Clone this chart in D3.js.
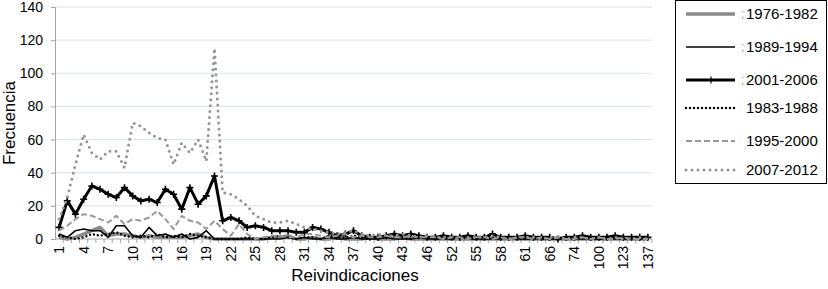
<!DOCTYPE html>
<html>
<head>
<meta charset="utf-8">
<script src="https://cdn.jsdelivr.net/npm/d3@7"></script>
<style>
  body { margin: 0; background: #fff; }
  svg { font-family: "Liberation Sans", Arial, sans-serif; }
</style>
</head>
<body>
<div id="chart"></div>
<script>
// categories (number of claims) - only the ones present in the chart
const categories = [
  1, 2, 3, 4, 5, 6, 7, 8, 9, 10, 11, 12, 13, 14, 15, 16, 17, 18, 19, 20,
  21, 22, 23, 24, 25, 26, 27, 28, 29, 30, 31, 32, 33, 34, 35, 36, 37, 38, 39, 40,
  41, 42, 43, 44, 45, 46, 48, 50, 52, 53, 54, 55, 56, 57, 58, 59, 60, 61, 62, 64,
  66, 68, 70, 74, 80, 90, 100, 105, 110, 123, 125, 130, 137
];

const yTicks = [0, 20, 40, 60, 80, 100, 120, 140];

// frequencies per period
const s1976 = [
  1, 0, 1, 3, 5, 7, 2, 3, 3, 2, 1, 2, 1, 1, 1, 1, 2, 3, 1, 0,
  0, 0, 0, 0, 0, 0, 1, 1, 2, 0, 0, 1, 0, 0, 1, 0, 0, 0, 1, 0,
  0, 0, 1, 0, 0, 0, 0, 0, 0, 0, 0, 0, 0, 0, 0, 0, 0, 0, 0, 0,
  0, 0, 0, 0, 0, 0, 0, 0, 0, 0, 0, 0, 0
];
const s1989 = [
  3, 1, 5, 6, 5, 5, 1, 8, 8, 2, 1, 7, 2, 3, 1, 3, 0, 1, 5, 0,
  0, 0, 0, 0, 0, 0, 0, 0, 1, 0, 1, 0, 0, 1, 0, 0, 1, 0, 0, 0,
  1, 0, 0, 0, 1, 0, 0, 0, 0, 1, 0, 0, 0, 0, 0, 1, 0, 0, 0, 0,
  0, 0, 1, 0, 0, 0, 0, 0, 0, 0, 0, 0, 0
];
const s2001 = [
  7, 23, 15, 24, 32, 30, 27, 25, 31, 26, 23, 24, 22, 30, 27, 18, 31, 21, 26, 38,
  11, 13, 11, 7, 8, 7, 5, 5, 5, 4, 4, 7, 6, 4, 2, 3, 5, 2, 1, 1,
  2, 3, 2, 3, 2, 1, 1, 2, 1, 1, 2, 1, 1, 3, 1, 1, 1, 2, 1, 1,
  1, 0, 1, 1, 2, 1, 1, 1, 2, 1, 1, 1, 1
];
const s1983 = [
  2, 1, 0, 1, 3, 2, 3, 4, 2, 1, 2, 1, 3, 1, 2, 1, 3, 2, 1, 0,
  0, 0, 0, 1, 0, 0, 1, 2, 1, 0, 1, 1, 0, 2, 1, 1, 2, 1, 0, 1,
  2, 1, 1, 0, 1, 1, 0, 1, 0, 1, 1, 0, 0, 1, 0, 1, 0, 0, 1, 0,
  0, 1, 0, 0, 1, 0, 0, 0, 1, 0, 0, 0, 0
];
const s1995 = [
  5, 8, 12, 15, 14, 12, 10, 14, 9, 12, 11, 13, 17, 12, 6, 14, 11, 10, 6, 11,
  6, 2, 9, 3, 0, 1, 2, 2, 1, 1, 3, 3, 2, 1, 2, 3, 1, 2, 1, 1,
  2, 1, 1, 2, 1, 1, 1, 0, 1, 1, 0, 1, 1, 0, 1, 0, 1, 1, 0, 1,
  0, 1, 0, 0, 1, 0, 1, 0, 0, 1, 0, 0, 0
];
const s2007 = [
  12, 25, 45, 63, 52, 48, 53, 53, 43, 70, 68, 64, 61, 60, 45, 58, 52, 60, 47, 115,
  28, 27, 24, 20, 14, 12, 10, 10, 11, 9, 7, 6, 5, 4, 3, 4, 5, 3, 2, 3,
  2, 2, 3, 2, 1, 2, 1, 1, 1, 0, 1, 1, 1, 2, 1, 0, 1, 1, 1, 0,
  1, 1, 0, 1, 1, 0, 1, 0, 1, 0, 0, 1, 0
];

// series styles, in drawing / legend order
const series = [
  { name: "1976-1982", prefix: ";", values: s1976, color: "#8a8a8a", width: 3.5, dash: null, cap: "butt" },
  { name: "1989-1994", prefix: ";", values: s1989, color: "#000", width: 1.6, dash: null, cap: "butt" },
  { name: "2001-2006", prefix: ";", values: s2001, color: "#000", width: 3, dash: null, cap: "butt", marker: true },
  { name: "1983-1988", prefix: "", values: s1983, color: "#000", width: 2.4, dash: "0 4", cap: "round" },
  { name: "1995-2000", prefix: "", values: s1995, color: "#999", width: 2, dash: "6 3", cap: "butt" },
  { name: "2007-2012", prefix: "", values: s2007, color: "#959595", width: 3, dash: "0 6", cap: "round" }
];

const width = 828;
const height = 289;
const margin = { left: 55, right: 176, top: 7, bottom: 50 };

const svg = d3.select("#chart")
  .append("svg")
  .attr("width", width)
  .attr("height", height);

const x = d3.scaleBand()
  .domain(categories)
  .range([margin.left, width - margin.right]);

const y = d3.scaleLinear()
  .domain([0, 140])
  .range([height - margin.bottom, margin.top]);

const cx = d => x(d) + x.bandwidth() / 2;

// gridlines
svg.append("g")
  .selectAll("line")
  .data(yTicks.filter(d => d > 0))
  .enter()
  .append("line")
  .attr("x1", margin.left)
  .attr("x2", width - margin.right)
  .attr("y1", d => y(d))
  .attr("y2", d => y(d))
  .style("stroke", "#dbe3ec")
  .style("stroke-width", 1);

// y axis
const yAxis = svg.append("g")
  .attr("transform", `translate(${margin.left},0)`)
  .call(d3.axisLeft(y).tickValues(yTicks).tickSize(4).tickPadding(8));
yAxis.select(".domain").style("stroke", "#a6a6a6");
yAxis.selectAll(".tick line").style("stroke", "#a6a6a6");
yAxis.selectAll(".tick text")
  .style("font-size", "14px")
  .style("font-family", "Liberation Sans, Arial, sans-serif")
  .style("fill", "#000");

// x axis: ticks at each category boundary, labels every third category
const xAxisY = y(0);
svg.append("line")
  .attr("x1", margin.left)
  .attr("x2", width - margin.right)
  .attr("y1", xAxisY)
  .attr("y2", xAxisY)
  .style("stroke", "#a6a6a6");

svg.append("g")
  .selectAll("line")
  .data(categories)
  .enter()
  .append("line")
  .attr("x1", d => x(d) + x.bandwidth())
  .attr("x2", d => x(d) + x.bandwidth())
  .attr("y1", xAxisY)
  .attr("y2", xAxisY + 4)
  .style("stroke", "#a6a6a6");

svg.append("g")
  .selectAll("text")
  .data(categories.filter((d, i) => i % 3 === 0))
  .enter()
  .append("text")
  .attr("transform", d => `translate(${cx(d)},${xAxisY + 7}) rotate(-90)`)
  .attr("text-anchor", "end")
  .attr("dy", "0.35em")
  .style("font-size", "14px")
  .text(d => d);

// axis titles
svg.append("text")
  .attr("transform", `translate(15,123) rotate(-90)`)
  .attr("text-anchor", "middle")
  .style("font-size", "17px")
  .text("Frecuencia");

svg.append("text")
  .attr("x", 355)
  .attr("y", 281)
  .attr("text-anchor", "middle")
  .style("font-size", "17px")
  .text("Reivindicaciones");

// lines
const line = d3.line()
  .x((d, i) => cx(categories[i]))
  .y(d => y(d));

series.forEach(s => {
  svg.append("path")
    .datum(s.values)
    .attr("d", line)
    .style("fill", "none")
    .style("stroke", s.color)
    .style("stroke-width", s.width)
    .style("stroke-linecap", s.cap)
    .style("stroke-linejoin", "round")
    .style("stroke-dasharray", s.dash);

  if (s.marker) {
    svg.append("g")
      .selectAll("path")
      .data(s.values)
      .enter()
      .append("path")
      .attr("transform", (d, i) => `translate(${cx(categories[i])},${y(d)})`)
      .attr("d", "M-3.5,0H3.5M0,-3.5V3.5")
      .style("stroke", "#000")
      .style("stroke-width", 1.6);
  }
});

// legend
const legend = svg.append("g");

legend.append("rect")
  .attr("x", 675.5)
  .attr("y", 0.5)
  .attr("width", 151)
  .attr("height", 183)
  .style("fill", "#fff")
  .style("stroke", "#000")
  .style("stroke-width", 1);

const legendY = [14, 47, 80, 108, 141, 170];

series.forEach((s, i) => {
  const ly = legendY[i];
  legend.append("line")
    .attr("x1", 686)
    .attr("x2", 735)
    .attr("y1", ly)
    .attr("y2", ly)
    .style("stroke", s.color)
    .style("stroke-width", s.width)
    .style("stroke-linecap", s.cap)
    .style("stroke-dasharray", s.dash);

  if (s.marker) {
    legend.append("path")
      .attr("transform", `translate(711,${ly})`)
      .attr("d", "M0,-3.5V3.5")
      .style("stroke", "#000")
      .style("stroke-width", 1.2);
  }

  if (s.prefix) {
    legend.append("text")
      .attr("x", 741)
      .attr("y", ly)
      .attr("dy", "0.35em")
      .style("font-size", "12px")
      .style("fill", "#999")
      .text(s.prefix);
  }

  legend.append("text")
    .attr("x", 746)
    .attr("y", ly)
    .attr("dy", "0.35em")
    .style("font-size", "15px")
    .text(s.name);
});
</script>
</body>
</html>
